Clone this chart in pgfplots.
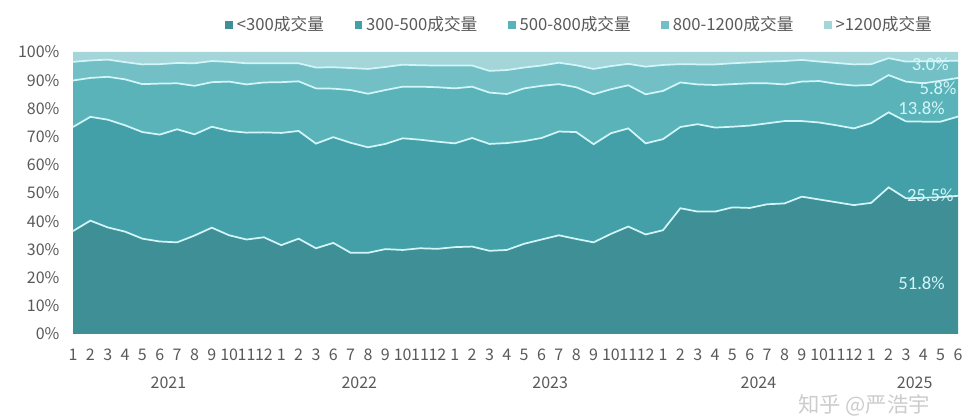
\documentclass[border=0pt]{standalone}
\usepackage{pgfplots}
\pgfplotsset{compat=1.18}
\usepackage{pgfplotstable}
\usepackage{fontspec}
\setmainfont{Noto Sans CJK SC}
\newfontfamily\labelfont{Carlito}
\definecolor{c1}{HTML}{3F8F96}
\definecolor{c2}{HTML}{43A0A8}
\definecolor{c3}{HTML}{5BB3BA}
\definecolor{c4}{HTML}{72BFC6}
\definecolor{c5}{HTML}{A3D5D9}
\definecolor{linec}{HTML}{D2F6F8}
\definecolor{tickgray}{HTML}{595959}

% shares (%) of each class per month; x = month index
\pgfplotstableread{
x a b c d e
0 36.5 36.9 16.5 6.6 3.5
1 40.2 36.8 13.8 6.2 3.0
2 37.8 38.2 15.2 6.1 2.7
3 36.3 37.7 16.3 6.1 3.6
4 33.8 37.8 17.0 7.0 4.4
5 32.8 37.9 18.1 6.9 4.3
6 32.5 40.1 16.3 7.2 3.9
7 34.9 35.9 17.2 8.0 4.0
8 37.7 35.8 15.8 7.5 3.2
9 35.0 37.0 17.5 7.0 3.5
10 33.5 37.9 17.1 7.5 4.0
11 34.3 37.2 17.7 6.8 4.0
12 31.5 39.8 18.0 6.7 4.0
13 33.8 38.2 17.6 6.4 4.0
14 30.4 37.1 19.6 7.4 5.5
15 32.3 37.5 17.2 7.6 5.4
16 28.8 39.0 18.7 7.8 5.7
17 28.8 37.4 19.0 8.8 6.0
18 30.1 37.3 19.1 8.2 5.3
19 29.8 39.6 18.3 7.8 4.5
20 30.4 38.5 18.8 7.6 4.7
21 30.2 38.0 19.3 7.7 4.8
22 30.8 36.8 19.5 8.1 4.8
23 31.0 38.5 18.2 7.5 4.8
24 29.5 37.9 18.2 7.7 6.7
25 29.8 37.9 17.4 8.5 6.4
26 32.0 36.4 18.7 7.4 5.5
27 33.5 36.0 18.5 7.2 4.8
28 35.0 36.8 16.8 7.6 3.8
29 33.7 37.9 15.9 7.8 4.7
30 32.5 34.8 17.7 9.0 6.0
31 35.5 35.7 15.6 8.2 5.0
32 38.1 34.8 15.3 7.6 4.2
33 35.3 32.3 17.4 9.8 5.2
34 36.8 32.3 17.1 9.2 4.6
35 44.6 28.8 15.8 6.5 4.3
36 43.4 31.0 14.1 7.1 4.4
37 43.4 29.8 15.1 7.3 4.4
38 44.9 28.6 15.1 7.4 4.0
39 44.7 29.2 15.0 7.4 3.7
40 46.0 28.7 14.2 7.7 3.4
41 46.3 29.2 13.0 8.3 3.2
42 48.7 26.8 14.0 7.7 2.8
43 47.7 27.3 14.7 6.9 3.4
44 46.7 27.3 14.7 7.4 3.9
45 45.7 27.2 15.2 7.5 4.4
46 46.5 28.3 13.5 7.4 4.3
47 52.0 26.6 13.2 6.0 2.2
48 48.1 27.3 14.1 7.1 3.4
49 48.3 27.0 13.6 7.8 3.3
50 48.5 26.8 14.5 7.0 3.2
51 49.0 28.1 13.7 6.1 3.1
}\datatable

\pgfplotsset{
  geom/.style={
    at={(54.75pt,62.25pt)}, anchor=south west,
    width=663.75pt, height=211.5pt, scale only axis,
    xmin=0, xmax=51, ymin=0, ymax=100,
    clip=false,
  }
}
\tikzset{
  dlab/.style={font=\labelfont\fontsize{14}{16}\selectfont, text=linec},
  ylab/.style={font=\fontsize{12}{14}\selectfont, text=tickgray, yshift=-36.75pt},
}

\begin{document}
\begin{tikzpicture}
\useasboundingbox (0,0) rectangle (735pt,312.75pt);
\begin{axis}[
  geom,
  stack plots=y,
  axis line style={draw=none},
  tick style={draw=none},
  xtick={0,...,51},
  xticklabels={1,2,3,4,5,6,7,8,9,10,11,12,1,2,3,6,7,8,9,10,11,12,1,2,3,4,5,6,7,8,9,10,11,12,1,2,3,4,5,6,7,8,9,10,11,12,1,2,3,4,5,6},
  ytick={0,10,...,100},
  yticklabels={0\%,10\%,20\%,30\%,40\%,50\%,60\%,70\%,80\%,90\%,100\%},
  ticklabel style={font=\fontsize{12}{14}\selectfont, text=tickgray},
  xticklabel style={yshift=-11pt, inner sep=0pt},
  yticklabel style={xshift=-10pt, inner sep=0pt},
  legend columns=-1,
  legend image code/.code={\fill[#1] (0pt,-2.8pt) rectangle (5.6pt,2.8pt);},
  legend style={draw=none, fill=none, at={(0.172,1.096)}, anchor=west,
    inner sep=0pt, font=\fontsize{12.5}{14}\selectfont, text=tickgray,
    /tikz/every odd column/.append style={column sep=1pt},
    /tikz/every even column/.append style={column sep=21pt}},
]
\addplot[fill=c1, draw=none] table[x=x,y=a]{\datatable} \closedcycle;
\addlegendentry{<300成交量}
\addplot[fill=c2, draw=none] table[x=x,y=b]{\datatable} \closedcycle;
\addlegendentry{300-500成交量}
\addplot[fill=c3, draw=none] table[x=x,y=c]{\datatable} \closedcycle;
\addlegendentry{500-800成交量}
\addplot[fill=c4, draw=none] table[x=x,y=d]{\datatable} \closedcycle;
\addlegendentry{800-1200成交量}
\addplot[fill=c5, draw=none] table[x=x,y=e]{\datatable} \closedcycle;
\addlegendentry{>1200成交量}
\end{axis}
\begin{axis}[geom, hide axis, stack plots=y]
\addplot[no marks, draw=linec, line width=1.3pt] table[x=x,y=a]{\datatable};
\addplot[no marks, draw=linec, line width=1.3pt] table[x=x,y=b]{\datatable};
\addplot[no marks, draw=linec, line width=1.3pt] table[x=x,y=c]{\datatable};
\addplot[no marks, draw=linec, line width=1.3pt] table[x=x,y=d]{\datatable};
\end{axis}
\begin{axis}[geom, hide axis]
\node[dlab] at (axis cs:49.4,95.7) {3.0\%};
\node[dlab] at (axis cs:49.85,87.2) {5.8\%};
\node[dlab] at (axis cs:48.9,80.1) {13.8\%};
\node[dlab] at (axis cs:49.4,49.3) {25.5\%};
\node[dlab] at (axis cs:48.9,18.1) {51.8\%};
\node[ylab] at (axis cs:5.5,0) {2021};
\node[ylab] at (axis cs:16.5,0) {2022};
\node[ylab] at (axis cs:27.5,0) {2023};
\node[ylab] at (axis cs:39.5,0) {2024};
\node[ylab] at (axis cs:48.5,0) {2025};
\end{axis}
\node[text=black!20, font=\fontsize{16}{18}\selectfont, inner sep=0pt] at (648pt,9pt) {知乎 @严浩宇};
\end{tikzpicture}
\end{document}
